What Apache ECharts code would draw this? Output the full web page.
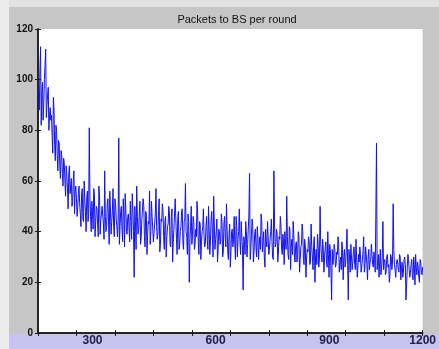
<!DOCTYPE html>
<html><head><meta charset="utf-8">
<script src="https://cdn.jsdelivr.net/npm/echarts@6/dist/echarts.min.js"></script>
<style>html,body{margin:0;padding:0;background:#c6c6c6}#c{width:439px;height:349px}</style>
</head><body><div id="c"></div>
<script>
const title = "Packets to BS per round";
const roundStep = 4;
// readings at rounds 4, 8, 12, ... 1200
const packetsEven = [
 88,113,95,84,100,112,90,97,86,84,
 78,93,74,82,70,76,66,72,63,69,
 60,66,57,63,55,61,52,64,56,53,
 50,58,47,55,45,60,48,53,44,81,
 46,52,41,55,44,49,38,54,45,50,
 43,64,40,51,44,56,39,48,42,53,
 45,38,77,42,50,36,47,55,40,46,
 41,52,37,49,22,44,58,39,47,35,
 45,53,38,48,31,44,56,40,46,36,
 43,57,37,48,32,45,51,38,44,30,
 42,50,35,46,28,41,53,37,45,33,
 40,48,36,44,59,38,47,20,42,35,
 46,33,41,52,36,44,29,40,49,34,
 42,37,50,31,45,39,54,33,40,28,
 41,35,47,30,43,38,51,32,39,26,
 40,34,46,29,42,37,49,31,38,17,
 36,44,30,41,63,33,45,28,39,34,
 42,29,38,47,32,40,26,36,44,31,
 37,45,30,64,34,41,28,38,46,33,
 39,27,36,54,31,42,25,37,44,30,
 35,28,40,24,34,43,29,37,22,33,
 38,27,43,30,35,20,33,39,26,50,
 31,37,24,34,28,40,22,33,13,27,
 35,26,32,38,24,30,36,21,33,28,
 41,13,30,35,25,32,27,37,22,31,
 34,24,29,38,26,31,21,33,28,35,
 27,32,24,75,29,22,33,26,44,28,
 23,30,26,20,31,25,51,27,22,29,
 25,31,21,28,24,30,13,26,29,22,
 27,23,30,19,26,28,22,29,24,26
];
// readings at rounds 2, 6, 10, ... 1198
const packetsOdd = [
 96,104,82,99,91,106,85,94,80,89,
 86,71,88,68,80,64,75,61,70,58,
 67,54,62,49,66,58,50,60,47,58,
 46,55,51,42,57,44,52,40,56,47,
 53,40,48,57,38,50,43,58,39,47,
 50,37,46,42,53,35,49,44,57,38,
 51,42,44,35,48,41,53,34,49,39,
 47,36,44,55,40,50,33,46,41,52,
 38,45,50,34,47,39,43,35,52,41,
 36,47,42,39,53,35,44,48,33,46,
 38,43,47,34,49,36,41,45,31,48,
 35,42,49,33,45,40,31,44,37,50,
 39,44,35,38,47,31,43,36,42,38,
 35,46,33,41,36,48,30,43,37,45,
 33,40,36,44,32,46,34,41,29,43,
 32,41,37,35,46,30,40,36,44,33,
 38,31,40,35,47,29,39,42,32,41,
 30,38,35,33,44,36,30,41,34,38,
 33,40,36,29,43,35,39,32,37,42,
 31,36,40,33,38,29,41,34,31,39,
 28,36,31,38,29,35,40,27,34,30,
 32,36,28,34,25,38,30,27,35,29,
 35,28,33,30,36,26,31,35,24,33,
 29,33,27,31,35,28,25,33,30,26,
 34,27,33,24,30,28,34,25,30,26,
 28,31,26,32,24,34,27,30,25,29,
 31,26,29,47,25,31,28,23,30,25,
 29,24,31,27,23,30,28,33,25,27,
 28,24,30,26,22,29,27,19,31,25,
 24,29,21,27,31,23,26,20,28,23
];
const xTickLabels = ["300","600","900","1200"];
const xLabelPositions = [170, 554, 909, 1200];
const yTicks = [0,20,40,60,80,100,120];

const seriesData = [];
for (let i = 0; i < packetsEven.length; i++) {
  seriesData.push([(i+1)*roundStep - roundStep/2, packetsOdd[i]]);
  seriesData.push([(i+1)*roundStep, packetsEven[i]]);
}
const labelMap = {};
xLabelPositions.forEach((p,i)=>labelMap[p]=xTickLabels[i]);

const axLine = {show:true, lineStyle:{color:'#1a1a1a', width:1.5}};
const tick = {show:true, inside:true, length:3, lineStyle:{color:'#1a1a1a'}};

const chart = echarts.init(document.getElementById('c'));
chart.setOption({
  animation:false,
  backgroundColor:'#c6c6c6',
  graphic:[
    {type:'rect', z:-10, shape:{x:0,y:0,width:439,height:7}, style:{fill:'#e2e2e2'}},
    {type:'rect', z:-10, shape:{x:0,y:0,width:9,height:349}, style:{fill:'#ececec'}},
    {type:'rect', z:-10, shape:{x:9,y:334,width:430,height:15}, style:{fill:'#c7c2ee'}}
  ],
  title:{text:title, left:232, top:9, textAlign:'center',
    textStyle:{fontFamily:'Liberation Sans', fontSize:11, fontWeight:'normal', color:'#111'}},
  grid:{left:38, right:13, top:29, bottom:16, show:true, backgroundColor:'#ffffff', borderWidth:0},
  xAxis:[
    {type:'value', min:0, max:1200, interval:120, position:'bottom',
     axisLine:axLine, axisTick:tick, axisLabel:{show:false}, splitLine:{show:false}},
    {type:'value', min:0, max:1200, interval:120, position:'top',
     axisLine:axLine, axisTick:tick, axisLabel:{show:false}, splitLine:{show:false}},
    {type:'value', min:0, max:1200, position:'bottom',
     axisLine:{show:false}, axisTick:{show:false}, splitLine:{show:false},
     axisLabel:{show:true, customValues:xLabelPositions, margin:2,
       formatter:v=>labelMap[v]||'', fontFamily:'Liberation Sans', fontSize:12, fontWeight:'bold', color:'#202048'}}
  ],
  yAxis:[
    {type:'value', min:0, max:120, interval:20, position:'left',
     axisLine:axLine, axisTick:tick, splitLine:{show:false},
     axisLabel:{margin:5, fontFamily:'Liberation Sans', fontSize:10, fontWeight:'bold', color:'#111',
       formatter:v=>yTicks.includes(v)?String(v):''}},
    {type:'value', min:0, max:120, interval:20, position:'right',
     axisLine:axLine, axisTick:tick, axisLabel:{show:false}, splitLine:{show:false}}
  ],
  series:[{
    type:'line', xAxisIndex:0, yAxisIndex:0, data:seriesData, showSymbol:false,
    lineStyle:{color:'#1010f4', width:1}, clip:true
  }]
});
</script></body></html>
